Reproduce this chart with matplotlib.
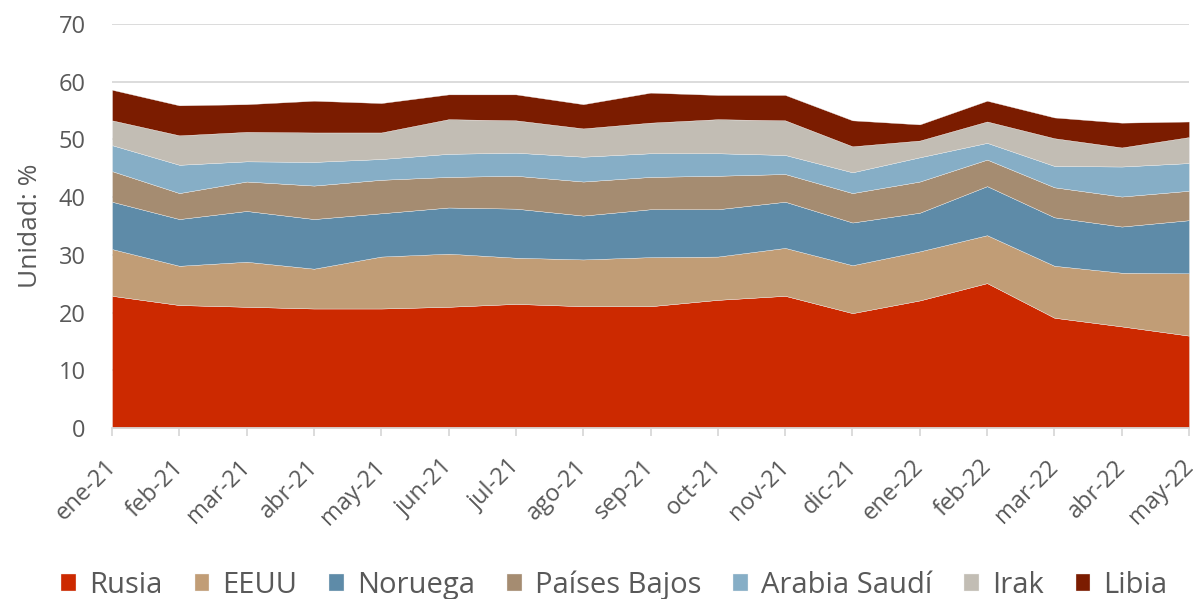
import matplotlib
matplotlib.use("Agg")
import matplotlib.pyplot as plt
import matplotlib.transforms as mtransforms
import numpy as np

# months and shares (%) by supplier
meses = ["ene-21", "feb-21", "mar-21", "abr-21", "may-21", "jun-21", "jul-21",
         "ago-21", "sep-21", "oct-21", "nov-21", "dic-21", "ene-22", "feb-22",
         "mar-22", "abr-22", "may-22"]
rusia = [22.9, 21.3, 21.0, 20.7, 20.7, 21.0, 21.5, 21.1, 21.1, 22.2, 22.9,
         19.9, 22.1, 25.1, 19.1, 17.6, 16.0]
eeuu = [8.1, 6.8, 7.8, 6.9, 9.0, 9.2, 8.0, 8.1, 8.5, 7.5, 8.3, 8.3, 8.5, 8.3,
        9.0, 9.3, 10.8]
noruega = [8.2, 8.1, 8.8, 8.6, 7.5, 8.0, 8.5, 7.6, 8.3, 8.2, 8.0, 7.4, 6.7,
           8.5, 8.4, 8.0, 9.2]
paises_bajos = [5.3, 4.5, 5.1, 5.8, 5.8, 5.3, 5.7, 5.9, 5.6, 5.8, 4.8, 5.1,
                5.4, 4.6, 5.2, 5.2, 5.1]
arabia = [4.5, 4.9, 3.5, 4.1, 3.6, 4.0, 4.0, 4.3, 4.1, 3.9, 3.3, 3.6, 4.2,
          2.9, 3.7, 5.2, 4.8]
irak = [4.3, 5.1, 5.1, 5.1, 4.6, 6.0, 5.6, 4.9, 5.3, 5.9, 6.0, 4.5, 2.9, 3.7,
        4.8, 3.3, 4.5]
libia = [5.3, 5.2, 4.8, 5.5, 5.1, 4.3, 4.5, 4.2, 5.2, 4.2, 4.4, 4.5, 2.8, 3.6,
         3.6, 4.3, 2.7]

series = ["Rusia", "EEUU", "Noruega", "Países Bajos", "Arabia Saudí", "Irak", "Libia"]
colores = ["#CC2900", "#C19D76", "#5E8BA8", "#A58C71", "#86AEC6", "#C2BDB4", "#7B1C00"]

plt.rcParams["font.family"] = ["Open Sans", "DejaVu Sans"]
gris = "#595959"

fig = plt.figure(figsize=(11.98, 5.99), dpi=100)
ax = fig.add_axes([0.0935, 0.2855, 0.899, 0.6745])

x = np.arange(len(meses))
ax.stackplot(x, rusia, eeuu, noruega, paises_bajos, arabia, irak, libia,
             colors=colores, labels=series, linewidth=0.25,
             edgecolor="#f2f2f2", zorder=2)

ax.set_xlim(0, len(meses) - 1)
ax.set_ylim(0, 70)
ax.set_yticks(range(0, 71, 10))
ax.grid(axis="y", color="#D9D9D9", linewidth=1.3, zorder=0)
ax.set_axisbelow(True)
for s in ["left", "right", "top"]:
    ax.spines[s].set_visible(False)
ax.spines["bottom"].set_color("#D9D9D9")
ax.spines["bottom"].set_linewidth(1.3)

ax.set_xticks(x)
ax.set_xticklabels(meses, rotation=45, ha="right", rotation_mode="anchor")
ax.tick_params(axis="x", colors="#D9D9D9", length=6, width=1.3, labelcolor=gris,
               labelsize=17, pad=2)
# push the month labels down a bit, like the original
desplaza = mtransforms.ScaledTranslation(-8 / 100, -16 / 100, fig.dpi_scale_trans)
for lab in ax.get_xticklabels():
    lab.set_transform(lab.get_transform() + desplaza)

ax.tick_params(axis="y", length=0, labelcolor=gris, labelsize=17, pad=19)
ax.set_ylabel("Unidad: %", color=gris, fontsize=19)
ax.yaxis.set_label_coords(-0.064, 0.5)

fig.legend(*ax.get_legend_handles_labels(), loc="center",
           bbox_to_anchor=(0.513, 0.023), ncol=7, frameon=False, fontsize=21,
           labelcolor=gris, handlelength=0.5, handleheight=0.5,
           handletextpad=0.45, columnspacing=1.1)

plt.savefig("out.png", dpi=100)
plt.close()
